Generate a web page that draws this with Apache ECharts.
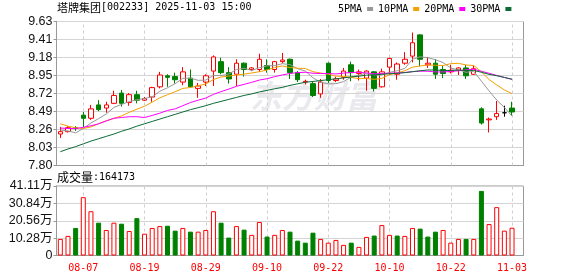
<!DOCTYPE html>
<html><head><meta charset="utf-8">
<script src="https://cdn.jsdelivr.net/npm/echarts@6/dist/echarts.min.js"></script>
<style>html,body{margin:0;padding:0;background:#fff}#c{width:578px;height:276px}</style>
</head><body><div id="c"></div>
<script>
const stockName = '塔牌集团';
const stockCode = '002233';
const stamp = '2025-11-03 15:00';
const dates = ['08-04','08-05','08-06','08-07','08-08','08-11','08-12','08-13','08-14','08-15',
'08-18','08-19','08-20','08-21','08-22','08-25','08-26','08-27','08-28','08-29',
'09-01','09-02','09-03','09-04','09-05','09-08','09-09','09-10','09-11','09-12',
'09-15','09-16','09-17','09-18','09-19','09-22','09-23','09-24','09-25','09-26',
'09-29','09-30','10-09','10-10','10-13','10-14','10-15','10-16','10-17','10-20',
'10-21','10-22','10-23','10-24','10-27','10-28','10-29','10-30','10-31','11-03',''];
const opens = [8.20,8.23,8.28,8.44,8.40,8.57,8.53,8.59,8.72,8.60,
8.70,8.63,8.67,8.80,8.94,8.93,8.86,8.91,8.78,8.86,
9.00,9.12,8.98,8.96,9.10,9.02,9.02,9.07,9.02,9.12,
9.15,8.98,8.86,8.84,8.71,9.10,8.88,8.92,9.08,8.97,
8.91,8.99,8.80,9.05,8.96,9.10,9.19,9.46,9.08,9.10,
9.02,8.99,9.01,9.04,8.96,8.52,8.38,8.42,8.47,8.53];
const closes = [8.23,8.28,8.27,8.40,8.52,8.51,8.57,8.69,8.59,8.70,
8.63,8.65,8.79,8.95,8.92,8.89,8.99,8.80,8.81,8.94,
9.18,8.98,8.90,9.10,9.02,9.04,9.15,9.02,9.12,9.14,
8.98,8.89,8.87,8.69,8.86,8.88,8.90,9.00,8.98,8.99,
9.00,8.78,8.99,9.16,9.09,9.15,9.36,9.15,9.10,8.96,
8.97,9.01,9.04,8.94,9.03,8.34,8.39,8.46,8.47,8.48];
const lows = [8.15,8.22,8.24,8.29,8.38,8.49,8.47,8.58,8.55,8.56,
8.59,8.62,8.61,8.78,8.80,8.84,8.82,8.79,8.66,8.81,
8.81,8.96,8.84,8.81,8.93,9.00,8.99,8.98,8.98,9.10,
8.90,8.86,8.83,8.67,8.66,8.85,8.86,8.89,8.87,8.88,
8.75,8.74,8.79,8.95,8.89,9.08,9.11,9.06,9.04,8.90,
8.91,8.97,8.95,8.90,8.95,8.32,8.22,8.38,8.42,8.44];
const highs = [8.29,8.30,8.30,8.48,8.57,8.63,8.61,8.75,8.76,8.72,
8.75,8.67,8.80,8.99,8.96,8.98,9.05,9.02,8.85,8.96,
9.20,9.17,9.05,9.15,9.11,9.05,9.22,9.15,9.13,9.23,
9.16,9.00,8.89,8.86,8.90,9.11,8.93,9.04,9.12,9.02,
9.01,9.00,9.03,9.17,9.11,9.24,9.49,9.47,9.18,9.15,
9.07,9.08,9.05,9.08,9.07,8.54,8.41,8.62,8.56,8.61];
const volumes = [98000,116000,163000,345000,262000,194000,151000,194000,188000,145000,
221000,129000,163000,174000,176000,147000,163000,141000,141000,151000,
262000,194000,106000,174000,153000,122000,198000,112000,122000,151000,
141000,88000,76000,135000,98000,76000,92000,63000,76000,51000,
110000,118000,180000,122000,118000,116000,163000,159000,112000,141000,
151000,76000,98000,98000,98000,382000,186000,286000,147000,164173];
const ma5 = [8.25,8.24,8.215,8.27,8.340,8.396,8.454,8.538,8.576,8.612,
8.636,8.652,8.672,8.744,8.788,8.840,8.908,8.910,8.882,8.886,
8.944,8.942,8.962,9.020,9.036,9.008,9.042,9.066,9.070,9.094,
9.082,9.030,9.000,8.914,8.858,8.838,8.840,8.866,8.924,8.950,
8.974,8.950,8.948,8.984,9.004,9.034,9.150,9.182,9.170,9.144,
9.108,9.038,9.016,8.984,8.998,8.872,8.748,8.632,8.538,8.428];
const ma10 = [8.33,8.30,8.28,8.27,8.29,8.33,8.37,8.40,8.43,8.476,
8.516,8.553,8.605,8.660,8.700,8.738,8.780,8.791,8.813,8.837,
8.892,8.925,8.936,8.951,8.961,8.976,8.992,9.014,9.045,9.065,
9.045,9.036,9.033,8.992,8.976,8.960,8.935,8.933,8.919,8.904,
8.906,8.895,8.907,8.954,8.977,9.004,9.050,9.065,9.077,9.074,
9.071,9.094,9.099,9.077,9.071,8.990,8.893,8.824,8.761,8.713];
const ma20 = [8.276,8.27,8.27,8.285,8.305,8.33,8.365,8.40,8.41,8.42,
8.42,8.41,8.436,8.465,8.50,8.52,8.56,8.60,8.63,8.657,
8.704,8.739,8.771,8.806,8.831,8.857,8.886,8.903,8.929,8.951,
8.969,8.981,8.985,8.972,8.969,8.968,8.964,8.974,8.982,8.985,
8.976,8.966,8.970,8.973,8.977,8.982,8.993,8.999,8.998,8.989,
8.989,8.995,9.003,9.016,9.024,8.997,8.972,8.945,8.919,8.894];
const ma30 = [7.975,8.01,8.04,8.075,8.11,8.14,8.17,8.20,8.235,8.265,
8.30,8.33,8.36,8.39,8.42,8.45,8.48,8.51,8.535,8.56,
8.59,8.615,8.64,8.665,8.69,8.71,8.735,8.755,8.775,8.793,
8.818,8.838,8.858,8.868,8.879,8.891,8.902,8.913,8.926,8.935,
8.948,8.952,8.959,8.966,8.971,8.980,8.992,9.004,9.014,9.014,
9.007,9.008,9.013,9.008,9.008,8.985,8.959,8.941,8.919,8.897];
const maNames = ['5PMA','10PMA','20PMA','30PMA'];
const priceTicks = ['7.80','8.03','8.26','8.49','8.72','8.95','9.18','9.41','9.63'];
const volTicks = ['0','10.28万','20.56万','30.84万','41.11万'];
const markedDates = ['08-07','08-19','08-29','09-10','09-22','10-10','10-22','11-03'];

const pMin = parseFloat(priceTicks[0]), pMax = parseFloat(priceTicks[priceTicks.length-1]);
const pInt = (pMax - pMin) / (priceTicks.length - 1);
const vMax = parseFloat(volTicks[volTicks.length-1]) * 10000;
const vInt = vMax / (volTicks.length - 1);

const RED = '#ff0000', GREEN = '#008000', GRID = '#d4d4d4', FRAME = '#999999';
const numFont = '"Liberation Sans", "Noto Sans CJK SC", sans-serif';
const monoFont = '"DejaVu Sans Mono", monospace';

const kData = closes.map((c, i) => [opens[i], c, lows[i], highs[i]]);
const volData = volumes.map((v, i) => {
  const up = i === 0 ? true : closes[i] >= closes[i-1];
  return { value: v, itemStyle: up ? {color:'#ffffff', borderColor: RED, borderWidth: 1} : {color: GREEN, borderColor: GREEN, borderWidth: 1} };
});
const vLines = {
  silent: true, symbol: ['none','none'], z: 1, animation: false,
  label: {show: false},
  lineStyle: {color: '#cfcfcf', type: [3,3], width: 1},
  data: markedDates.map(d => ({xAxis: d}))
};
const maColors = ['#999999', '#f5a000', '#ff00ff', '#0a6b35'];
const maData = [ma5, ma10, ma20, ma30];

const chart = echarts.init(document.getElementById('c'), null, {renderer: 'canvas'});
chart.setOption({
  animation: false,
  backgroundColor: '#ffffff',
  legend: {
    data: maNames, left: 338, top: 4, padding: 0, icon: 'rect', itemWidth: 6, itemHeight: 4,
    align: 'right', itemGap: 5, selectedMode: false,
    textStyle: {fontFamily: monoFont, fontSize: 10, color: '#000'}
  },
  graphic: [
    {type: 'text', left: 250, top: 80, z: -1, silent: true,
     style: {text: '东方财富', fontSize: 32, fontWeight: 'bold', fontStyle: 'italic',
             fontFamily: '"Noto Sans CJK SC"', fill: '#e9e9ee'}},
    {type: 'text', left: 57, top: 2,
     style: {text: '{a|' + stockName + '}{b|[' + stockCode + '] ' + stamp + '}',
             rich: {a: {fontFamily: '"Noto Sans CJK SC"', fontSize: 11, fill: '#000'},
                    b: {fontFamily: monoFont, fontSize: 10, fill: '#000'}}}},
    {type: 'text', left: 57, top: 171,
     style: {text: '{a|成交量}{b|:' + volumes[volumes.length-1] + '}',
             rich: {a: {fontFamily: '"Noto Sans CJK SC"', fontSize: 12, fill: '#000'},
                    b: {fontFamily: monoFont, fontSize: 10, fill: '#000'}}}}
  ],
  grid: [
    {left: 56.5, top: 21.5, width: 467, height: 144, show: true, borderColor: FRAME, borderWidth: 1, backgroundColor: 'transparent'},
    {left: 56.5, top: 186, width: 467, height: 69.5, show: true, borderColor: FRAME, borderWidth: 1, backgroundColor: 'transparent'}
  ],
  xAxis: [
    {type: 'category', gridIndex: 0, data: dates, boundaryGap: true,
     axisLine: {show: true, lineStyle: {color: FRAME}}, axisTick: {show: false},
     axisLabel: {show: false}, splitLine: {show: false}},
    {type: 'category', gridIndex: 1, data: dates, boundaryGap: true,
     axisLine: {show: true, lineStyle: {color: FRAME}}, axisTick: {show: false},
     axisLabel: {show: true, color: RED, fontFamily: monoFont, fontSize: 10, margin: 8,
                 interval: (idx, val) => markedDates.indexOf(val) >= 0},
     splitLine: {show: false}}
  ],
  yAxis: [
    {type: 'value', gridIndex: 0, min: pMin, max: pMax, interval: pInt,
     axisLine: {show: true, lineStyle: {color: FRAME}},
     axisTick: {show: true, length: 3, lineStyle: {color: FRAME}},
     axisLabel: {margin: 4, color: '#111', fontFamily: numFont, fontSize: 12.5,
                 formatter: v => priceTicks[Math.round((v - pMin) / pInt)]},
     splitLine: {show: true, lineStyle: {color: GRID, width: 1}}},
    {type: 'value', gridIndex: 1, min: 0, max: vMax, interval: vInt,
     axisLine: {show: true, lineStyle: {color: FRAME}},
     axisTick: {show: true, length: 3, lineStyle: {color: FRAME}},
     axisLabel: {margin: 4, color: '#111', fontFamily: numFont, fontSize: 12.5,
                 formatter: v => volTicks[Math.round(v / vInt)]},
     splitLine: {show: true, lineStyle: {color: GRID, width: 1}}}
  ],
  series: [
    {type: 'candlestick', name: 'K', xAxisIndex: 0, yAxisIndex: 0, data: kData, barWidth: 5, z: 3,
     itemStyle: {color: '#ffffff', color0: GREEN, borderColor: RED, borderColor0: GREEN,
                 borderColorDoji: '#000000', borderWidth: 1},
     markLine: vLines},
    ...maNames.map((n, k) => ({
      type: 'line', name: n, xAxisIndex: 0, yAxisIndex: 0, data: maData[k],
      showSymbol: false, symbol: 'none', smooth: false, z: 4,
      lineStyle: {color: maColors[k], width: 1}, itemStyle: {color: maColors[k]}
    })),
    {type: 'bar', name: 'VOL', xAxisIndex: 1, yAxisIndex: 1, data: volData, barWidth: 5, z: 3,
     markLine: vLines}
  ]
});
</script></body></html>
